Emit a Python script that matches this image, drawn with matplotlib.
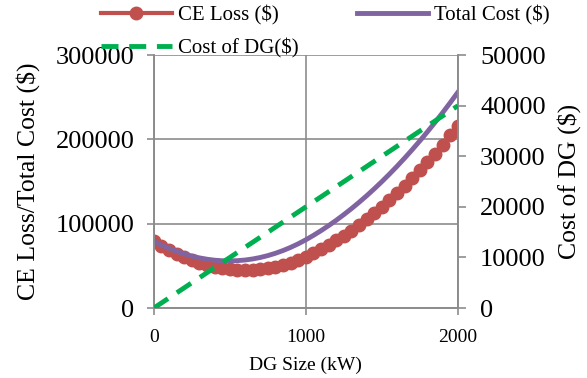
import matplotlib
matplotlib.use("Agg")
import matplotlib.pyplot as plt
from matplotlib.lines import Line2D

plt.rcParams['font.family'] = ['Liberation Serif', 'DejaVu Serif']

dg_size = list(range(0, 2001, 50))
ce_loss = [79200, 73700, 68750, 64250, 60200, 56650, 53550, 50950, 48800, 47150,
           45950, 45250, 45000, 45250, 46000, 47250, 49000, 51250, 54000, 57250,
           61000, 65240, 69840, 74820, 80160, 85880, 91960, 98420, 105240, 112440,
           120000, 127940, 136240, 144920, 153960, 163380, 173160, 183320, 193840, 204740,
           216000]
dg_cost = [0, 1000, 2000, 3000, 4000, 5000, 6000, 7000, 8000, 9000,
           10000, 11000, 12000, 13000, 14000, 15000, 16000, 17000, 18000, 19000,
           20000, 21000, 22000, 23000, 24000, 25000, 26000, 27000, 28000, 29000,
           30000, 31000, 32000, 33000, 34000, 35000, 36000, 37000, 38000, 39000,
           40000]
total_cost = [79200, 74700, 70750, 67250, 64200, 61650, 59550, 57950, 56800, 56150,
              55950, 56250, 57000, 58250, 60000, 62250, 65000, 68250, 72000, 76250,
              81000, 86240, 91840, 97820, 104160, 110880, 117960, 125420, 133240, 141440,
              150000, 158940, 168240, 177920, 187960, 198380, 209160, 220320, 231840, 243740,
              256000]

red = '#C0504D'
purple = '#8064A2'
green = '#00B050'
grid_c = '#8C8C8C'

fig = plt.figure(figsize=(5.87, 3.78), dpi=100)
ax = fig.add_axes([0.262, 0.185, 0.518, 0.669])
ax2 = ax.twinx()

ax.plot(dg_size, ce_loss, color=red, lw=3, marker='o', ms=9, mec=red, mfc=red, zorder=2)
ax.plot(dg_size, total_cost, color=purple, lw=3.5, zorder=3)
ax2.plot(dg_size, dg_cost, color=green, lw=3.5, dashes=(3.5, 2.2), zorder=4)

ax.set_xlim(0, 2000)
ax.set_ylim(0, 300000)
ax2.set_ylim(0, 50000)
ax.set_xticks([0, 1000, 2000])
ax.set_yticks([0, 100000, 200000, 300000])
ax2.set_yticks([0, 10000, 20000, 30000, 40000, 50000])

ax.grid(True, color=grid_c, lw=1.2)
ax.set_axisbelow(True)
for a in (ax, ax2):
    for s in a.spines.values():
        s.set_color(grid_c)
        s.set_linewidth(1.2)
    a.spines['top'].set_visible(False)

ax.tick_params(axis='y', labelsize=19, color=grid_c, length=5, width=1.2, pad=9)
ax.tick_params(axis='x', labelsize=14, color=grid_c, length=5, width=1.2, pad=10)
ax2.tick_params(axis='y', labelsize=19, color=grid_c, length=6, width=1.2, pad=10)

ax.set_xlabel('DG Size (kW)', fontsize=14, labelpad=8)
ax.set_ylabel('CE Loss/Total Cost ($)', fontsize=18.5, labelpad=11)
ax2.set_ylabel('Cost of DG ($)', fontsize=18.5, labelpad=8)

h1 = Line2D([], [], color=red, lw=3, marker='o', ms=9)
h2 = Line2D([], [], color=purple, lw=3.5)
h3 = Line2D([], [], color=green, lw=3.5, dashes=(3.5, 2.2))
fig.legend([h1, h3, h2], ['CE Loss ($)', 'Cost of DG($)', 'Total Cost ($)'],
           ncol=2, loc='upper left', bbox_to_anchor=(0.14, 1.035), frameon=False,
           fontsize=15, handlelength=3.4, columnspacing=2.8, handletextpad=0.3,
           labelspacing=0.6)

fig.savefig('out.png', dpi=100)
